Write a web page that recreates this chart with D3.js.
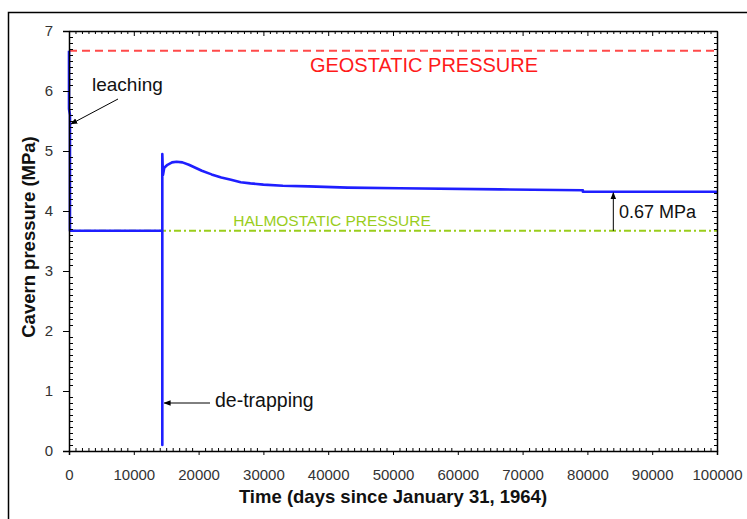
<!DOCTYPE html>
<html><head><meta charset="utf-8">
<script src="https://cdn.jsdelivr.net/npm/d3@7"></script>
<style>body{margin:0;background:#fff}svg{display:block;font-family:"Liberation Sans",Arial,sans-serif}</style>
</head><body><svg id="c" width="747" height="519"></svg>
<script>
// ---- data ----
const timeDays = [0, 0, 150, 150, 14400, 14400, 14400, 14500, 14700, 15200, 15900, 16600, 17500, 18500, 19500, 20500, 22000, 23500, 25000, 26500, 28000, 30000, 33000, 37000, 43000, 51000, 66500, 79300, 79300, 90000, 100000];
const pressure = [6.67, 5.7, 5.6, 3.67, 3.67, 0.1, 4.95, 4.6, 4.72, 4.77, 4.81, 4.82, 4.81, 4.77, 4.72, 4.67, 4.61, 4.56, 4.52, 4.48, 4.46, 4.44, 4.42, 4.41, 4.39, 4.38, 4.36, 4.345, 4.32, 4.32, 4.32];
const geostatic = 6.67;
const halmostatic = 3.67;
const xTicks = [0, 10000, 20000, 30000, 40000, 50000, 60000, 70000, 80000, 90000, 100000];
const yTicks = [0, 1, 2, 3, 4, 5, 6, 7];
const labels = {x: "Time (days since January 31, 1964)", y: "Cavern pressure (MPa)",
  geo: "GEOSTATIC PRESSURE", hal: "HALMOSTATIC PRESSURE", leach: "leaching", detrap: "de-trapping", diff: "0.67 MPa"};

const svg = d3.select("#c");
const L = 69, R = 717, T = 31, B = 451;
const x = d3.scaleLinear().domain([0, 100000]).range([L, R]);
const y = d3.scaleLinear().domain([0, 7]).range([B, T]);

// outer frame
svg.append("path").attr("d", `M8.5,519 V12.5 H747`).attr("fill", "none").attr("stroke", "#000").attr("stroke-width", 1.5);

// defs arrow
svg.append("defs").append("marker").attr("id", "ah").attr("viewBox", "0 0 10 10").attr("refX", 9).attr("refY", 5)
  .attr("markerWidth", 7).attr("markerHeight", 7).attr("markerUnits", "userSpaceOnUse").attr("orient", "auto")
  .append("path").attr("d", "M0,1 L10,5 L0,9 Z").attr("fill", "#000");

// reference lines
svg.append("line").attr("x1", x(0)).attr("x2", x(100000)).attr("y1", y(geostatic)).attr("y2", y(geostatic))
  .attr("stroke", "#ff4a4a").attr("stroke-width", 2).attr("stroke-dasharray", "8,5");
svg.append("line").attr("x1", x(0)).attr("x2", x(100000)).attr("y1", y(halmostatic)).attr("y2", y(halmostatic))
  .attr("stroke", "#9acd1c").attr("stroke-width", 2).attr("stroke-dasharray", "7,3,2,3");

// series
const pts = timeDays.map((t, i) => [t, pressure[i]]);
svg.append("path").datum(pts).attr("fill", "none").attr("stroke", "#1f1fff").attr("stroke-width", 2.6)
  .attr("stroke-linejoin", "round")
  .attr("d", d3.line().x(d => x(d[0])).y(d => y(d[1])).curve(d3.curveLinear));

// axes
const minorX = d3.range(0, 100001, 1000).filter(v => v % 10000 !== 0);
const minorY = d3.range(0, 71).map(v => v / 10).filter(v => Math.abs(v - Math.round(v)) > 1e-6);
// bottom
const bx = svg.append("g").attr("transform", `translate(0,${B})`)
  .call(d3.axisBottom(x).tickValues(xTicks).tickFormat(d3.format("d")).tickSize(4).tickPadding(14));
bx.append("g").call(d3.axisTop(x).tickValues(minorX).tickFormat("").tickSize(3)).select(".domain").remove();
// top
const tx = svg.append("g").attr("transform", `translate(0,${T})`)
  .call(d3.axisBottom(x).tickValues(minorX).tickFormat("").tickSize(3).tickSizeOuter(0));
tx.append("g").call(d3.axisBottom(x).tickValues(xTicks).tickFormat("").tickSize(5)).select(".domain").remove();
// left
const ly = svg.append("g").attr("transform", `translate(${L},0)`)
  .call(d3.axisLeft(y).tickValues(yTicks).tickFormat(d3.format("d")).tickSize(6).tickPadding(10));
ly.append("g").call(d3.axisRight(y).tickValues(minorY).tickFormat("").tickSize(4)).select(".domain").remove();
// right
const ry = svg.append("g").attr("transform", `translate(${R},0)`)
  .call(d3.axisLeft(y).tickValues(minorY).tickFormat("").tickSize(3).tickSizeOuter(0));
ry.append("g").call(d3.axisLeft(y).tickValues(yTicks).tickFormat("").tickSize(5)).select(".domain").remove();

svg.selectAll(".domain").attr("stroke", "#000").attr("stroke-width", 1.5);
svg.selectAll(".tick line").attr("stroke", "#000").attr("stroke-width", 1);
svg.selectAll(".tick text").attr("fill", "#333").style("font-size", "15px").style("font-family", '"Liberation Sans",Arial,sans-serif');

// axis titles
svg.append("text").attr("x", (L + R) / 2).attr("y", 503).attr("text-anchor", "middle")
  .style("font-size", "18.5px").style("font-weight", "bold").attr("fill", "#111").text(labels.x);
svg.append("text").attr("transform", `translate(35,${(T + B) / 2 - 4}) rotate(-90)`).attr("text-anchor", "middle")
  .style("font-size", "18.5px").style("font-weight", "bold").attr("fill", "#111").text(labels.y);

// annotations
svg.append("text").attr("x", 424).attr("y", 72).attr("text-anchor", "middle").attr("fill", "#ff1a1a")
  .style("font-size", "20px").text(labels.geo);
svg.append("text").attr("x", 332).attr("y", 226).attr("text-anchor", "middle").attr("fill", "#9acd1c")
  .style("font-size", "15.5px").text(labels.hal);
svg.append("text").attr("x", 92).attr("y", 91).attr("fill", "#111").style("font-size", "19px").text(labels.leach);
svg.append("text").attr("x", 215).attr("y", 407).attr("fill", "#111").style("font-size", "19.5px").text(labels.detrap);
svg.append("text").attr("x", 619).attr("y", 218).attr("fill", "#111").style("font-size", "18px").text(labels.diff);

// arrows
svg.append("line").attr("x1", 118).attr("y1", 99).attr("x2", x(300)).attr("y2", y(5.45))
  .attr("stroke", "#000").attr("stroke-width", 1).attr("marker-end", "url(#ah)");
svg.append("line").attr("x1", 210).attr("y1", 403).attr("x2", x(14400) + 2).attr("y2", 403)
  .attr("stroke", "#000").attr("stroke-width", 1).attr("marker-end", "url(#ah)");
svg.append("line").attr("x1", x(84000)).attr("y1", y(halmostatic)).attr("x2", x(84000)).attr("y2", y(4.32) + 1)
  .attr("stroke", "#000").attr("stroke-width", 1).attr("marker-end", "url(#ah)");
</script></body></html>
